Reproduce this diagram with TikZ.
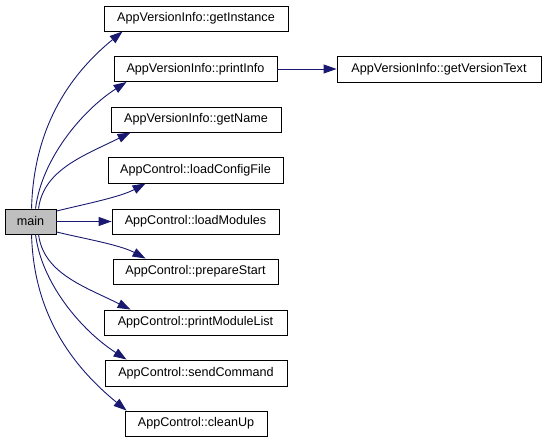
\documentclass[tikz,border=0pt]{standalone}
\usepackage{fontspec}
\setmainfont{Liberation Sans}
\usetikzlibrary{arrows.meta}
\definecolor{edgeblue}{RGB}{25,25,112}
\definecolor{maingray}{RGB}{191,191,191}
\begin{document}
\begin{tikzpicture}[x=1pt,y=-1pt,
  fn/.style={draw=black,line width=0.9pt,fill=white,inner sep=0pt,minimum height=25pt,
    font=\fontsize{12.6}{15}\selectfont,anchor=center},
  mainbox/.style={fn,fill=maingray},
  call/.style={draw=edgeblue,line width=0.9pt,-{Triangle[length=13pt,width=9pt]}}]
\useasboundingbox (0,0) rectangle (547,443);
\node[mainbox,minimum width=51pt] (main) at (30.5,221.5) {main};
\node[fn,minimum width=184pt] (gi) at (196,18.5) {AppVersionInfo::getInstance};
\node[fn,minimum width=163pt] (pi) at (195.5,69) {AppVersionInfo::printInfo};
\node[fn,minimum width=170pt] (gn) at (196,119.5) {AppVersionInfo::getName};
\node[fn,minimum width=175pt,minimum height=26pt] (lc) at (195.5,170) {AppControl::loadConfigFile};
\node[fn,minimum width=167pt] (lm) at (195.5,221.5) {AppControl::loadModules};
\node[fn,minimum width=165pt] (ps) at (195.5,271.5) {AppControl::prepareStart};
\node[fn,minimum width=183pt] (pm) at (195.5,322.5) {AppControl::printModuleList};
\node[fn,minimum width=182pt,minimum height=26pt] (sc) at (196,373) {AppControl::sendCommand};
\node[fn,minimum width=142pt] (cu) at (196,423.5) {AppControl::cleanUp};
\node[fn,minimum width=204pt,minimum height=26pt] (gv) at (439,69) {AppVersionInfo::getVersionText};

\draw[call] ([xshift=27pt]main.north west) .. controls +(2,-79) and +(-55,45) .. ([xshift=19pt]gi.south west);
\draw[call] ([xshift=31pt]main.north west) .. controls +(6,-49) and +(-45,29) .. ([xshift=13pt]pi.south west);
\draw[call] ([xshift=34pt]main.north west) .. controls +(5,-39) and +(-46,23) .. ([xshift=20pt]gn.south west);
\draw[call] ([yshift=-2.5pt]main.north east) .. controls +(24,-6) and +(-26,14) .. ([xshift=38pt]lc.south west);
\draw[call] (main.east) -- (lm.west);
\draw[call] ([yshift=2.5pt]main.south east) .. controls +(24,6) and +(-26,-14) .. ([xshift=33pt]ps.north west);
\draw[call] ([xshift=34pt]main.south west) .. controls +(5,39) and +(-46,-23) .. ([xshift=27pt]pm.north west);
\draw[call] ([xshift=31pt]main.south west) .. controls +(6,49) and +(-45,-29) .. ([xshift=22pt]sc.north west);
\draw[call] ([xshift=27pt]main.south west) .. controls +(2,79) and +(-55,-45) .. ([xshift=2pt]cu.north west);
\draw[call] (pi.east) -- (gv.west);
\end{tikzpicture}
\end{document}
